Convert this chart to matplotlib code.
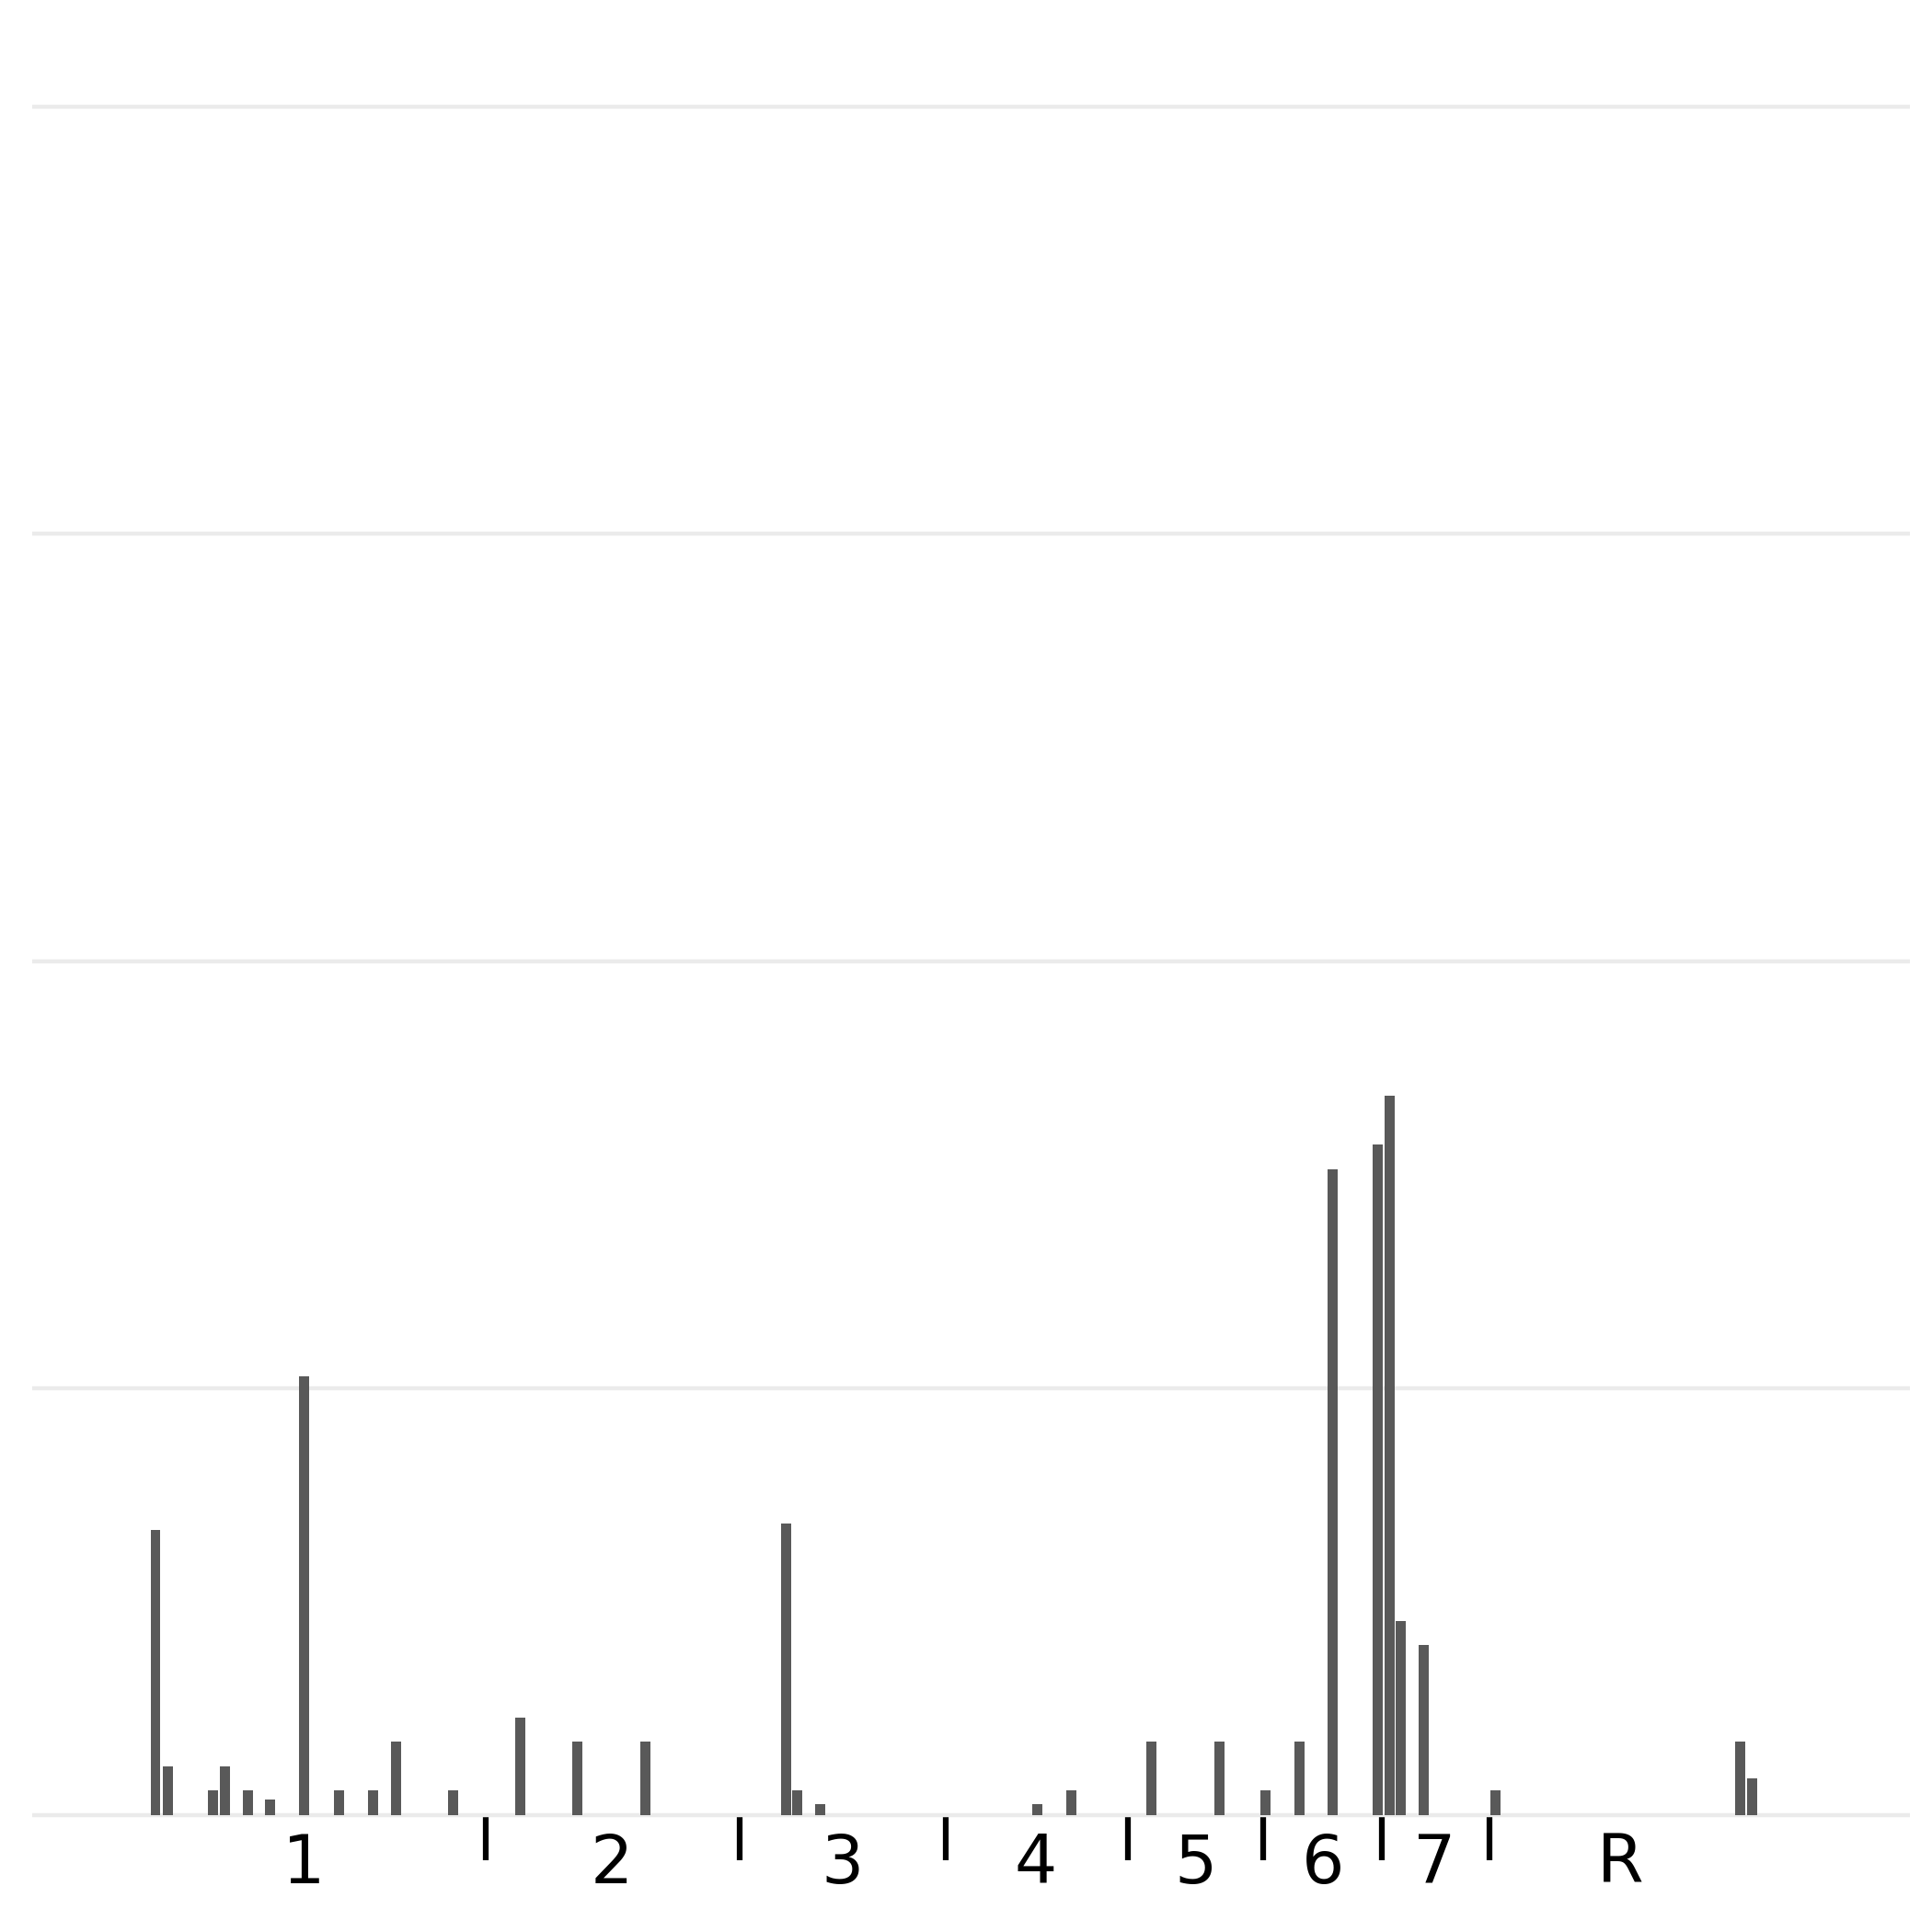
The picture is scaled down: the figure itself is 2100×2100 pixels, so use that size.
import matplotlib
matplotlib.use("Agg")
import matplotlib.pyplot as plt
from matplotlib.ticker import FixedLocator, NullFormatter

# Bar positions (x, arbitrary position units) and heights (percent)
bar_x = [10.15, 11.17, 14.89, 15.87, 17.73, 19.60, 22.42, 25.28, 28.06, 29.98,
         34.67, 40.20, 44.88, 50.48, 62.09, 62.99, 64.89, 82.75, 85.58, 92.13,
         97.77, 101.52, 104.36, 107.08, 110.79, 111.78, 112.69, 114.59, 120.49,
         140.68, 141.64]
bar_h = [3.34, 0.565, 0.285, 0.565, 0.285, 0.185, 5.14, 0.285, 0.285, 0.855,
         0.285, 1.135, 0.855, 0.855, 3.415, 0.285, 0.13, 0.13, 0.285, 0.855,
         0.855, 0.285, 0.855, 7.565, 7.855, 8.425, 2.275, 1.995, 0.285,
         0.855, 0.425]

# Gear labels and separators on the x axis
label_pos = [22.39, 47.75, 66.74, 82.64, 95.8, 106.26, 115.5, 130.8]
label_txt = ["1", "2", "3", "4", "5", "6", "7", "R"]
sep_pos = [37.33, 58.26, 75.2, 90.2, 101.4, 111.11, 120.0]

y_grid = [0, 5, 10, 15, 20]

fig = plt.figure(figsize=(7, 7), dpi=300)
W = H = 2100.0
left_px, right_px = 35.0, 2076.0
base_px = 1972.8
g_px = 464.1  # pixels per 5 units
ytop = 20.4
top_px = base_px - ytop / 5 * g_px
ax = fig.add_axes([left_px / W, (H - base_px) / H,
                   (right_px - left_px) / W, (base_px - top_px) / H])

ax.bar(bar_x, bar_h, width=0.83, color="#595959", zorder=2)

ax.set_xlim(0, (right_px - left_px) / 13.2)
ax.set_ylim(0, ytop)

ax.set_yticks(y_grid)
ax.set_yticklabels([])
ax.tick_params(axis="y", length=0)
ax.grid(axis="y", color="#ebebeb", linewidth=1.07, zorder=0,
        solid_capstyle="butt")
ax.grid(axis="x", visible=False)
ax.set_axisbelow(True)
for gl in ax.yaxis.get_gridlines():
    gl.set_clip_on(False)
    gl.set_solid_capstyle("butt")

ax.xaxis.set_major_locator(FixedLocator(label_pos))
ax.set_xticklabels(label_txt, fontsize=17.5, family="DejaVu Sans")
ax.xaxis.set_minor_locator(FixedLocator(sep_pos))
ax.xaxis.set_minor_formatter(NullFormatter())
ax.tick_params(axis="x", which="major", length=0, pad=4.3)
ax.tick_params(axis="x", which="minor", length=11.7, width=1.5, color="black",
               direction="out")

for s in ax.spines.values():
    s.set_visible(False)

fig.savefig("out.png", dpi=300, facecolor="white")
